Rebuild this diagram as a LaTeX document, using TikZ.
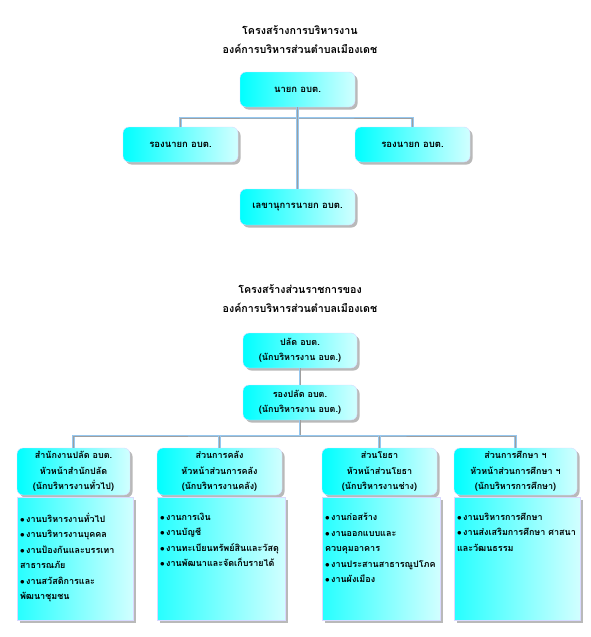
\documentclass[tikz,border=0pt]{standalone}
\usepackage{fontspec}
\newfontfamily\thaifont[Script=Thai]{Loma}
\usetikzlibrary{positioning, shadows}

\definecolor{connblue}{RGB}{150,200,240}
\tikzset{
  orgbox/.style={draw=blue!15, left color=cyan, right color=cyan!18,
    drop shadow={shadow xshift=2.5pt, shadow yshift=-2.5pt, fill=gray!90!black},
    align=center, inner sep=0pt, font=\thaifont\bfseries\fontsize{9}{15.5}\selectfont},
  headbox/.style={orgbox, rounded corners=6pt},
  bodybox/.style={orgbox, left color=cyan!85},
  listtext/.style={anchor=north west, align=left, inner sep=0pt,
    font=\thaifont\bfseries\fontsize{9}{15.5}\selectfont},
  titletext/.style={align=center, font=\thaifont\bfseries\fontsize{10.7}{19}\selectfont},
  conn/.style={draw=connblue, double=gray!75, double distance=0.6pt, line width=0.8pt}
}
\newcommand{\itm}{{\small$\bullet$}\,}

\begin{document}
\begin{tikzpicture}[x=1pt, y=-1pt]
    \useasboundingbox (0,0) rectangle (591,637);

    % โครงสร้างการบริหารงาน
    \node[titletext] (title1) at (300,40) {โครงสร้างการบริหารงาน\\องค์การบริหารส่วนตำบลเมืองเดช};
    \node[headbox, minimum width=115, minimum height=35, font=\thaifont\bfseries\fontsize{9.5}{15.5}\selectfont] (nayok) at (297.5,89.5) {นายก อบต.};
    \node[headbox, minimum width=115, minimum height=35, font=\thaifont\bfseries\fontsize{9.5}{15.5}\selectfont] (rongL) at (180.5,144.5) {รองนายก อบต.};
    \node[headbox, minimum width=115, minimum height=35, font=\thaifont\bfseries\fontsize{9.5}{15.5}\selectfont] (rongR) at (412.5,144.5) {รองนายก อบต.};
    \node[headbox, minimum width=115, minimum height=36, font=\thaifont\bfseries\fontsize{9.5}{15.5}\selectfont] (lekha) at (297.5,207) {เลขานุการนายก อบต.};

    \coordinate (bar1) at (297.5,118);
    \draw[conn] (rongL.north) |- (bar1) -| (rongR.north);
    \draw[conn] (nayok.south) -- (lekha.north);

    % โครงสร้างส่วนราชการ
    \node[titletext] (title2) at (300,299) {โครงสร้างส่วนราชการของ\\องค์การบริหารส่วนตำบลเมืองเดช};
    \node[headbox, minimum width=114, minimum height=35] (palad) at (300,350.5) {ปลัด อบต.\\(นักบริหารงาน อบต.)};
    \node[headbox, minimum width=114, minimum height=35] (rongpalad) at (300,402.5) {รองปลัด อบต.\\(นักบริหารงาน อบต.)};
    \draw[conn] (palad) -- (rongpalad);

    % หัวหน้าส่วน
    \node[headbox, minimum width=113, minimum height=47] (head1) at (73.5,471.5) {สำนักงานปลัด อบต.\\หัวหน้าสำนักปลัด\\(นักบริหารงานทั่วไป)};
    \node[headbox, minimum width=125, minimum height=47] (head2) at (219.5,471.5) {ส่วนการคลัง\\หัวหน้าส่วนการคลัง\\(นักบริหารงานคลัง)};
    \node[headbox, minimum width=115, minimum height=47] (head3) at (379.5,471.5) {ส่วนโยธา\\หัวหน้าส่วนโยธา\\(นักบริหารงานช่าง)};
    \node[headbox, minimum width=123, minimum height=47] (head4) at (515.5,471.5) {ส่วนการศึกษา ฯ\\หัวหน้าส่วนการศึกษา ฯ\\(นักบริหารการศึกษา)};

    \coordinate (bar2) at (300,436);
    \draw[conn] (rongpalad.south) -- (bar2);
    \draw[conn] (head1.north) |- (bar2) -| (head4.north);
    \draw[conn] (head2.north) -- (head2.north |- bar2);
    \draw[conn] (head3.north) -- (head3.north |- bar2);

    % งานในแต่ละส่วน
    \node[bodybox, minimum width=116, minimum height=123] (body1) at (75,558.5) {};
    \node[bodybox, minimum width=128, minimum height=123] (body2) at (221,558.5) {};
    \node[bodybox, minimum width=118, minimum height=123] (body3) at (381,558.5) {};
    \node[bodybox, minimum width=126, minimum height=123] (body4) at (517,558.5) {};

    \node[listtext] (list1) at ([shift={(3,16)}]body1.north west) {\itm งานบริหารงานทั่วไป\\\itm งานบริหารงานบุคคล\\\itm งานป้องกันและบรรเทา\\สาธารณภัย\\\itm งานสวัสดิการและ\\พัฒนาชุมชน};
    \node[listtext] (list2) at ([shift={(3,16)}]body2.north west) {\itm งานการเงิน\\\itm งานบัญชี\\\itm งานทะเบียนทรัพย์สินและวัสดุ\\\itm งานพัฒนาและจัดเก็บรายได้};
    \node[listtext] (list3) at ([shift={(3,16)}]body3.north west) {\itm งานก่อสร้าง\\\itm งานออกแบบและ\\ควบคุมอาคาร\\\itm งานประสานสาธารณูปโภค\\\itm งานผังเมือง};
    \node[listtext] (list4) at ([shift={(3,16)}]body4.north west) {\itm งานบริหารการศึกษา\\\itm งานส่งเสริมการศึกษา ศาสนา\\และวัฒนธรรม};
\end{tikzpicture}
\end{document}
